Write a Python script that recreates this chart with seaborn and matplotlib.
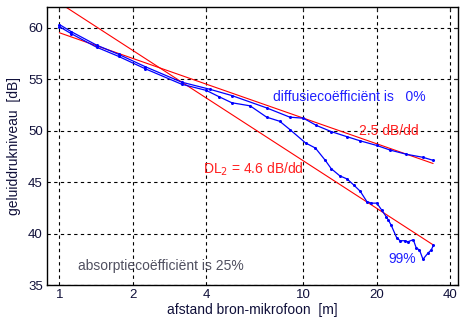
import numpy as np
import pandas as pd
import matplotlib
matplotlib.use("Agg")
import matplotlib.pyplot as plt
from matplotlib.ticker import FixedLocator, NullLocator, FixedFormatter
import seaborn as sns

# measured level vs. distance, diffusion coefficient 0 %
dist_0 = [1.0, 1.12, 1.42, 1.75, 2.25, 3.17, 4.15, 5.09, 7.07, 8.8, 10.0, 11.3,
          13.0, 15.1, 17.1, 20.0, 22.7, 26.4, 30.9, 34.1]
level_0 = [60.3, 59.6, 58.3, 57.4, 56.2, 54.7, 54.0, 53.4, 52.2, 51.3, 51.2, 50.5,
           49.9, 49.4, 49.0, 48.55, 48.1, 47.7, 47.4, 47.1]

# measured level vs. distance, diffusion coefficient 99 %
dist_99 = [1.0, 1.12, 1.42, 1.75, 2.25, 3.17, 4.0, 4.5, 5.09, 6.05, 7.07, 8.0, 8.8,
           10.2, 11.2, 12.3, 13.0, 14.1, 15.1, 16.1, 17.1, 18.2, 19.0, 20.0, 20.9,
           21.9, 22.3, 22.9, 24.1, 24.9, 26.0, 26.8, 28.2, 29.0, 29.9, 30.9, 32.4,
           33.4, 34.1]
level_99 = [60.1, 59.4, 58.1, 57.2, 56.0, 54.5, 53.9, 53.3, 52.7, 52.4, 51.3, 50.9,
            50.1, 48.8, 48.3, 47.1, 46.3, 45.6, 45.3, 44.7, 44.1, 43.1, 42.95, 42.95,
            42.3, 41.6, 41.3, 40.8, 39.6, 39.3, 39.3, 39.2, 39.4, 38.6, 38.4, 37.5,
            38.1, 38.4, 38.85]

# fitted decay lines (end points)
fit_dist = [1.0, 34.0]
fit_25 = [59.5, 46.8]   # 2.5 dB per doubling of distance
fit_46 = [62.4, 38.9]   # 4.6 dB per doubling of distance

x_ticks = [1, 2, 4, 10, 20, 40]
y_ticks = [35, 40, 45, 50, 55, 60]

sns.set_theme(style="white")
plt.rcParams["font.family"] = ["Liberation Sans", "DejaVu Sans"]

fig = plt.figure(figsize=(4.73, 3.25), dpi=100)
ax = fig.add_axes([47 / 473, 40 / 325, 411 / 473, 278 / 325])

df0 = pd.DataFrame({"r": dist_0, "L": level_0})
df99 = pd.DataFrame({"r": dist_99, "L": level_99})
dfa = pd.DataFrame({"r": fit_dist, "L": fit_25})
dfb = pd.DataFrame({"r": fit_dist, "L": fit_46})

sns.lineplot(data=dfa, x="r", y="L", ax=ax, color="#ff0000", lw=0.8,
             sort=False, estimator=None)
sns.lineplot(data=dfb, x="r", y="L", ax=ax, color="#ff0000", lw=0.8,
             sort=False, estimator=None)
sns.lineplot(data=df0, x="r", y="L", ax=ax, color="#0000ff", lw=0.9,
             marker="o", markersize=2.2, markeredgewidth=0,
             sort=False, estimator=None)
sns.lineplot(data=df99, x="r", y="L", ax=ax, color="#0000ff", lw=0.9,
             marker="o", markersize=2.2, markeredgewidth=0,
             sort=False, estimator=None)

ax.set_xscale("log")
ax.set_xlim(0.89, 43)
ax.set_ylim(35, 62)
ax.xaxis.set_major_locator(FixedLocator(x_ticks))
ax.xaxis.set_major_formatter(FixedFormatter([str(t) for t in x_ticks]))
ax.xaxis.set_minor_locator(NullLocator())
ax.yaxis.set_major_locator(FixedLocator(y_ticks))

ax.grid(True, which="major", color="black", linestyle=(0, (3, 3)), lw=0.8)
ax.tick_params(direction="in", length=3, width=0.8, top=True, right=True,
               labelsize=9.5, labelcolor="#10103a", pad=3)
for s in ax.spines.values():
    s.set_color("black")
    s.set_linewidth(1.0)

ax.set_xlabel("afstand bron-mikrofoon  [m]", fontsize=10, color="#10103a", labelpad=1)
ax.set_ylabel("geluiddrukniveau  [dB]", fontsize=10, color="#10103a", labelpad=5)

ax.text(7.5, 53.3, "diffusiecoëfficiënt is   0%", color="#2020ff", fontsize=10,
        va="center", ha="left")
ax.text(16.9, 50.0, "2.5 dB/dd", color="#ff2020", fontsize=10, va="center", ha="left")
ax.text(3.89, 46.2, "DL$_2$ = 4.6 dB/dd", color="#ff2020", fontsize=10,
        va="center", ha="left")
ax.text(22.3, 37.5, "99%", color="#2020ff", fontsize=10, va="center", ha="left")
ax.text(1.19, 36.8, "absorptiecoëfficiënt is 25%", color="#505060", fontsize=10,
        va="center", ha="left")

fig.savefig("out.png", dpi=100)
